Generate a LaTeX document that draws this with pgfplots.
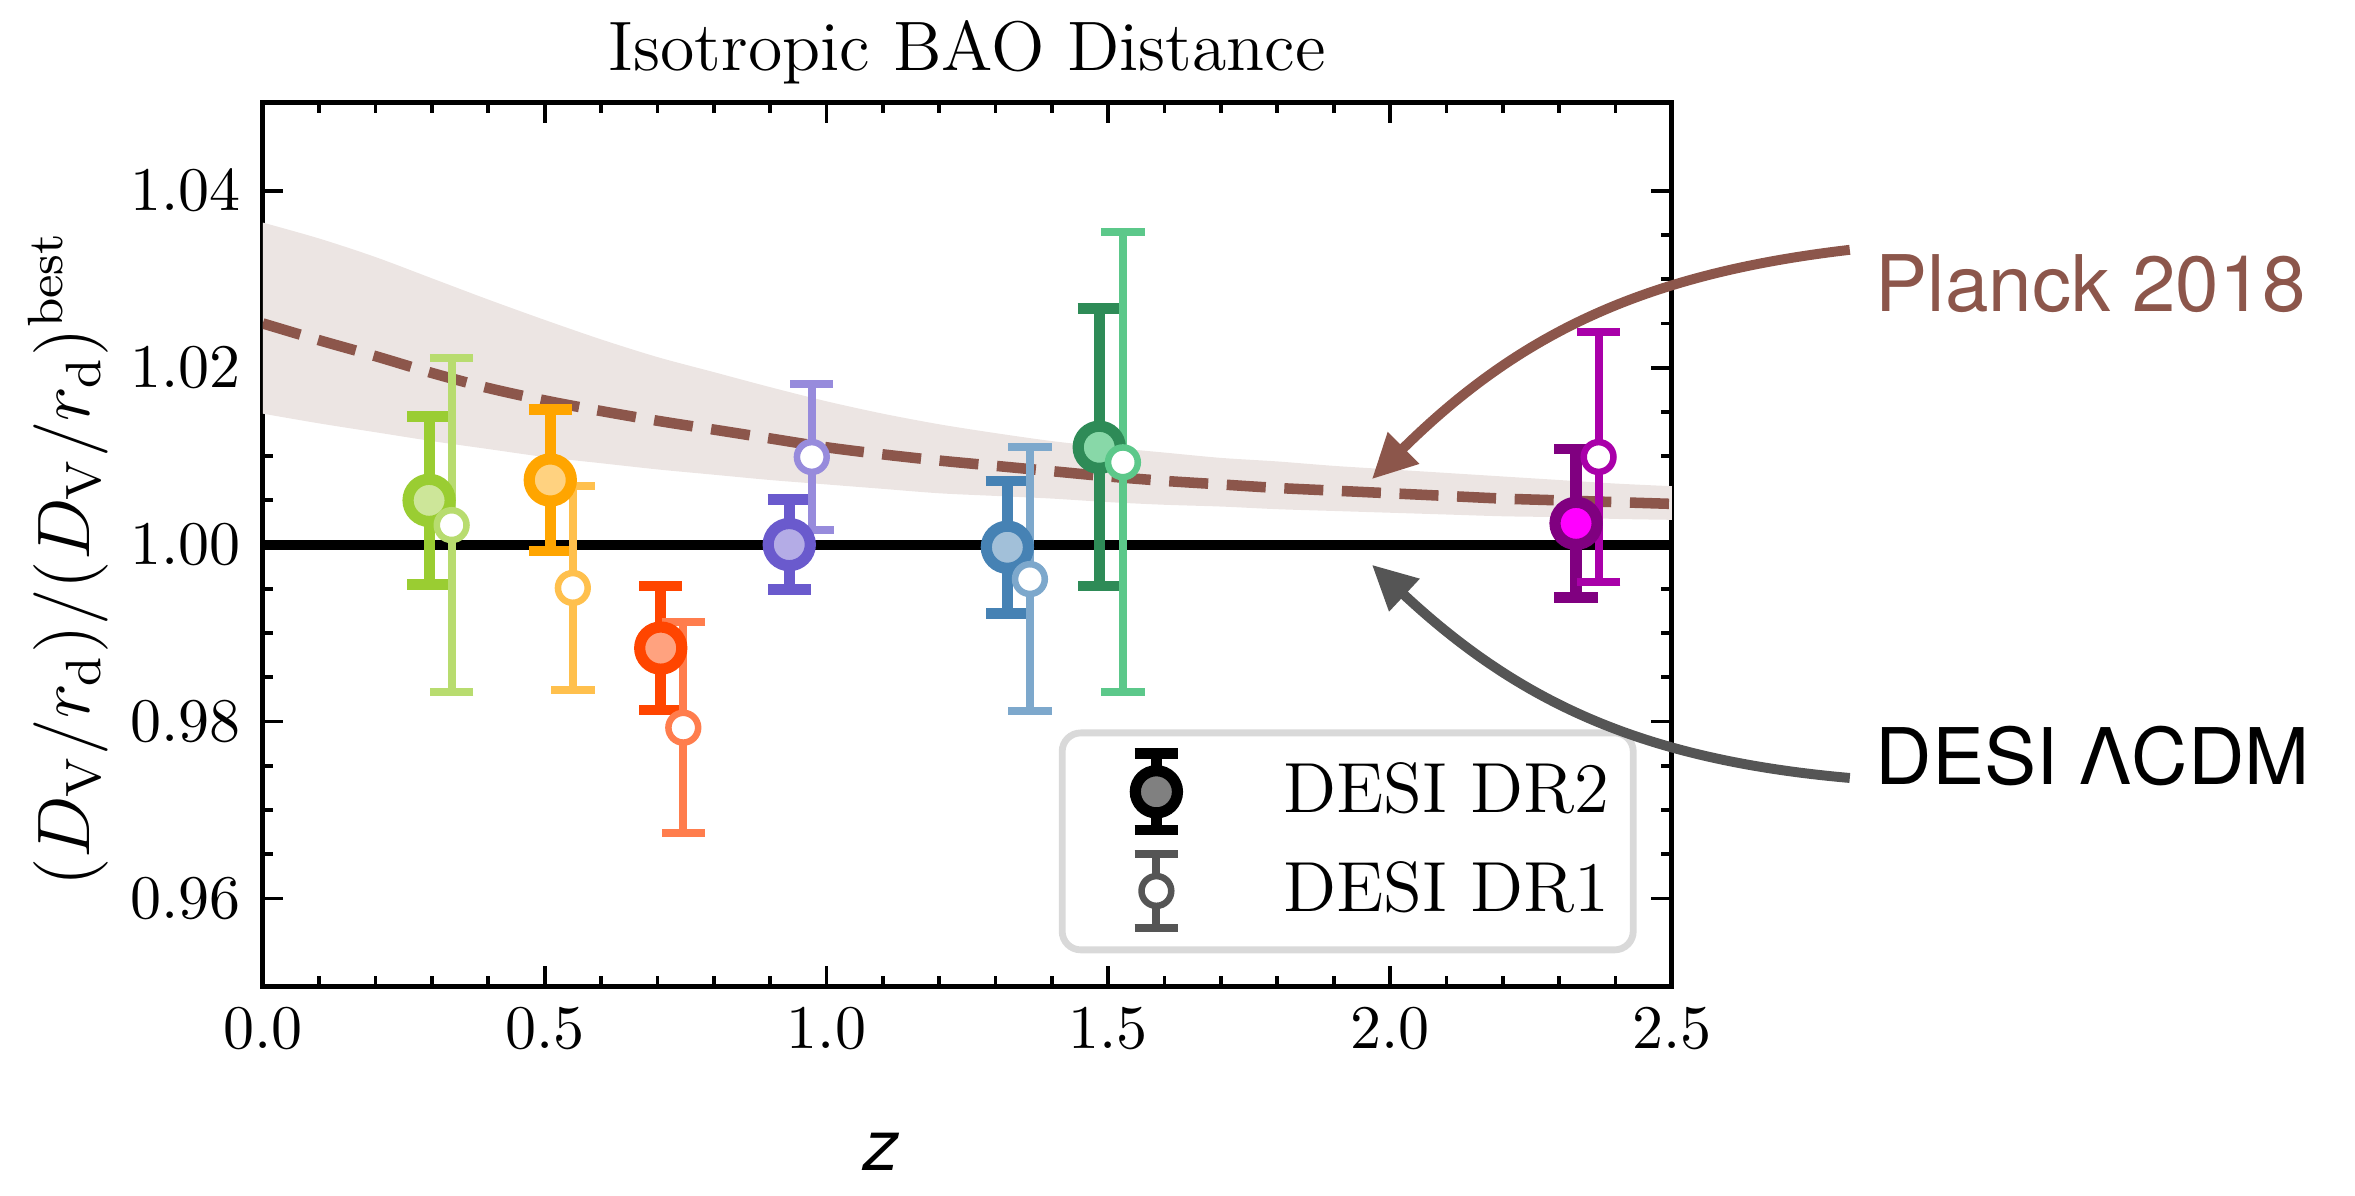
\documentclass[border=0pt]{standalone}
\usepackage{fontspec}
\setsansfont{TeX Gyre Heros}
\newfontfamily\helv{TeX Gyre Heros}
\usepackage{pgfplots}
\pgfplotsset{compat=1.18}
\usepgfplotslibrary{fillbetween}
\usetikzlibrary{arrows.meta}

\definecolor{tabbrown}{HTML}{8C564B}
\definecolor{bandc}{HTML}{ECE5E3}
\definecolor{arrgray}{HTML}{555555}
\definecolor{yg}{HTML}{9ACD32}\definecolor{ygf}{HTML}{CDE699}\definecolor{ygo}{HTML}{B8DC6F}
\definecolor{orr}{HTML}{FFA500}\definecolor{orf}{HTML}{FFD280}\definecolor{oro}{HTML}{FFC04D}
\definecolor{rd}{HTML}{FF4500}\definecolor{rdf}{HTML}{FFA27F}\definecolor{rdo}{HTML}{FF7D4D}
\definecolor{pu}{HTML}{6A5ACD}\definecolor{puf}{HTML}{B4ACE6}\definecolor{puo}{HTML}{978BDC}
\definecolor{bl}{HTML}{4682B4}\definecolor{blf}{HTML}{A2C0D9}\definecolor{blo}{HTML}{7DA8CC}
\definecolor{gr}{HTML}{2E8B57}\definecolor{grf}{HTML}{88D8A8}\definecolor{gro}{HTML}{5CC88A}
\definecolor{mg}{HTML}{800080}\definecolor{mgf}{HTML}{FF00FF}\definecolor{mgo}{HTML}{A900A9}

% Planck 2018 prediction: z, central, upper, lower
\pgfplotstableread{
z c u l
0.0 1.0250 1.0364 1.0148
0.1 1.0231 1.0346 1.0137
0.2 1.0213 1.0325 1.0127
0.3 1.0194 1.0301 1.0117
0.4 1.0177 1.0277 1.0108
0.5 1.0163 1.0254 1.0099
0.6 1.0151 1.0232 1.0092
0.7 1.0140 1.0212 1.0085
0.8 1.0130 1.0195 1.0079
0.9 1.0120 1.0178 1.0073
1.0 1.0110 1.0162 1.0068
1.1 1.0102 1.0148 1.0063
1.2 1.0095 1.0136 1.0058
1.3 1.0089 1.0126 1.0055
1.4 1.0083 1.0117 1.0052
1.5 1.0077 1.0110 1.0048
1.6 1.0072 1.0104 1.0045
1.7 1.0068 1.0098 1.0043
1.8 1.0064 1.0094 1.0040
1.9 1.0061 1.0089 1.0038
2.0 1.0058 1.0085 1.0036
2.1 1.0055 1.0081 1.0034
2.2 1.0052 1.0077 1.0032
2.3 1.0050 1.0073 1.0031
2.4 1.0048 1.0069 1.0029
2.5 1.0046 1.0066 1.0028
}\planck

\pgfplotsset{
  drtwo/.style 2 args={forget plot, only marks, mark=*, mark size=3.4pt,
    mark options={draw=#1, fill=#2, line width=1.8pt},
    error bars/y dir=both, error bars/y explicit,
    error bars/error bar style={draw=#1, line width=1.8pt},
    error bars/error mark=|,
    error bars/error mark options={draw=#1, line width=1.7pt, mark size=3.5pt}},
  drone/.style={forget plot, only marks, mark=*, mark size=2.4pt,
    mark options={draw=#1, fill=white, line width=1.05pt},
    error bars/y dir=both, error bars/y explicit,
    error bars/error bar style={draw=#1, line width=1.3pt},
    error bars/error mark=|,
    error bars/error mark options={draw=#1, line width=1.3pt, mark size=3.5pt}},
}

\begin{document}
\begin{tikzpicture}
\begin{axis}[
  at={(0,0)}, anchor=south west,
  scale only axis, width=227.3pt, height=142.7pt,
  xmin=0, xmax=2.5, ymin=0.95, ymax=1.05,
  xtick={0,0.5,1,1.5,2,2.5}, ytick={0.96,0.98,1.00,1.02,1.04},
  minor x tick num=4, minor y tick num=3,
  tick align=inside, xtick pos=both, ytick pos=both,
  major tick length=3.3pt, minor tick length=1.7pt,
  every tick/.style={black, line width=0.6pt},
  axis line style={line width=0.8pt},
  scaled ticks=false,
  xticklabel style={/pgf/number format/.cd, fixed, fixed zerofill, precision=1},
  yticklabel style={/pgf/number format/.cd, fixed, fixed zerofill, precision=2},
  tick label style={font=\fontsize{10}{12}\selectfont},
  every axis title shift=0pt,
  title={Isotropic BAO Distance},
  title style={font=\fontsize{11.3}{13}\selectfont, at={(axis description cs:0.5,1.036)}, anchor=base},
  xlabel={\sffamily\itshape z},
  xlabel style={font=\fontsize{11.5}{13}\selectfont, at={(axis description cs:0.439,-0.207)}, anchor=base},
  ylabel={$(D_{\mathrm{V}}/r_{\mathrm{d}})/(D_{\mathrm{V}}/r_{\mathrm{d}})^{\mathrm{best}}$},
  ylabel style={font=\fontsize{12}{14}\selectfont, at={(axis description cs:-0.138,0.484)}, anchor=center},
  legend style={at={(axis description cs:0.975,0.038)}, anchor=south east,
    draw=black!15, line width=1.1pt, rounded corners=3pt, fill=white,
    inner xsep=1.8pt, inner ysep=1.5pt, row sep=0pt,
    font=\fontsize{11.45}{13}\selectfont},
  legend cell align=left,
]
% Planck band and curve
\addplot[name path=up, draw=none, smooth, forget plot] table[x=z, y=u] {\planck};
\addplot[name path=lo, draw=none, smooth, forget plot] table[x=z, y=l] {\planck};
\addplot[bandc, forget plot] fill between[of=up and lo];
\addplot[tabbrown, line width=1.7pt, smooth, dash pattern=on 6.3pt off 3pt, forget plot] table[x=z, y=c] {\planck};
% DESI LCDM best fit
\addplot[black, line width=1.6pt, forget plot] coordinates {(0,1) (2.5,1)};

% DESI DR2
\addplot[drtwo={yg}{ygf}] coordinates {(0.295,1.0050) +- (0,0.0095)};
\addplot[drtwo={orr}{orf}] coordinates {(0.510,1.0073) +- (0,0.0080)};
\addplot[drtwo={rd}{rdf}] coordinates {(0.706,0.9883) +- (0,0.0070)};
\addplot[drtwo={pu}{puf}] coordinates {(0.934,1.0000) +- (0,0.0051)};
\addplot[drtwo={bl}{blf}] coordinates {(1.321,0.9997) +- (0,0.0075)};
\addplot[drtwo={gr}{grf}] coordinates {(1.484,1.0110) +- (0,0.0157)};
\addplot[drtwo={mg}{mgf}] coordinates {(2.330,1.0024) +- (0,0.0084)};

% DESI DR1
\addplot[drone=ygo] coordinates {(0.335,1.0022) +- (0,0.0189)};
\addplot[drone=oro] coordinates {(0.550,0.9951) +- (0,0.0115)};
\addplot[drone=rdo] coordinates {(0.746,0.9793) +- (0,0.0119)};
\addplot[drone=puo] coordinates {(0.974,1.0099) +- (0,0.0083)};
\addplot[drone=blo] coordinates {(1.361,0.9961) +- (0,0.0149)};
\addplot[drone=gro] coordinates {(1.526,1.0093) +- (0,0.0260)};
\addplot[drone=mgo] coordinates {(2.370,1.0099) +- (0,0.0141)};

\addlegendimage{legend image code/.code={
  \path[draw=none, fill=none] (0pt,-8pt) rectangle (31.9pt,8pt);
  \draw[black, line width=1.8pt] (13.4pt,-6.2pt) -- (13.4pt,6.2pt);
  \draw[black, line width=1.7pt] (9.9pt,-6.2pt) -- (16.9pt,-6.2pt);
  \draw[black, line width=1.7pt] (9.9pt,6.2pt) -- (16.9pt,6.2pt);
  \draw[black, fill=gray, line width=1.8pt] (13.4pt,0pt) circle (3.4pt);}}
\addlegendentry{DESI DR2}
\addlegendimage{legend image code/.code={
  \path[draw=none, fill=none] (0pt,-8pt) rectangle (31.9pt,8pt);
  \draw[arrgray, line width=1.3pt] (13.4pt,-6pt) -- (13.4pt,6pt);
  \draw[arrgray, line width=1.3pt] (9.9pt,-6pt) -- (16.9pt,-6pt);
  \draw[arrgray, line width=1.3pt] (9.9pt,6pt) -- (16.9pt,6pt);
  \draw[arrgray, fill=white, line width=1.05pt] (13.4pt,0pt) circle (2.4pt);}}
\addlegendentry{DESI DR1}
\end{axis}
\node[anchor=base west, text=tabbrown, font=\helv\fontsize{12.6}{14}\selectfont, inner sep=0pt] at (260pt,108.9pt) {Planck 2018};
\node[anchor=base west, text=black, font=\helv\fontsize{12.6}{14}\selectfont, inner sep=0pt] at (260pt,32.6pt) {DESI ΛCDM};
\draw[tabbrown, line width=1.6pt, -{Triangle[length=7.2pt,width=6.8pt]}] (256pt,118.9pt) to[bend right=19] (178.9pt,81.9pt);
\draw[arrgray, line width=1.6pt, -{Triangle[length=7.2pt,width=6.8pt]}] (256pt,33.7pt) to[bend left=19] (178.9pt,68.1pt);
\pgfresetboundingbox
\path[use as bounding box] (-42.4pt,-33.7pt) rectangle (337.5pt,159.2pt);
\end{tikzpicture}
\end{document}
